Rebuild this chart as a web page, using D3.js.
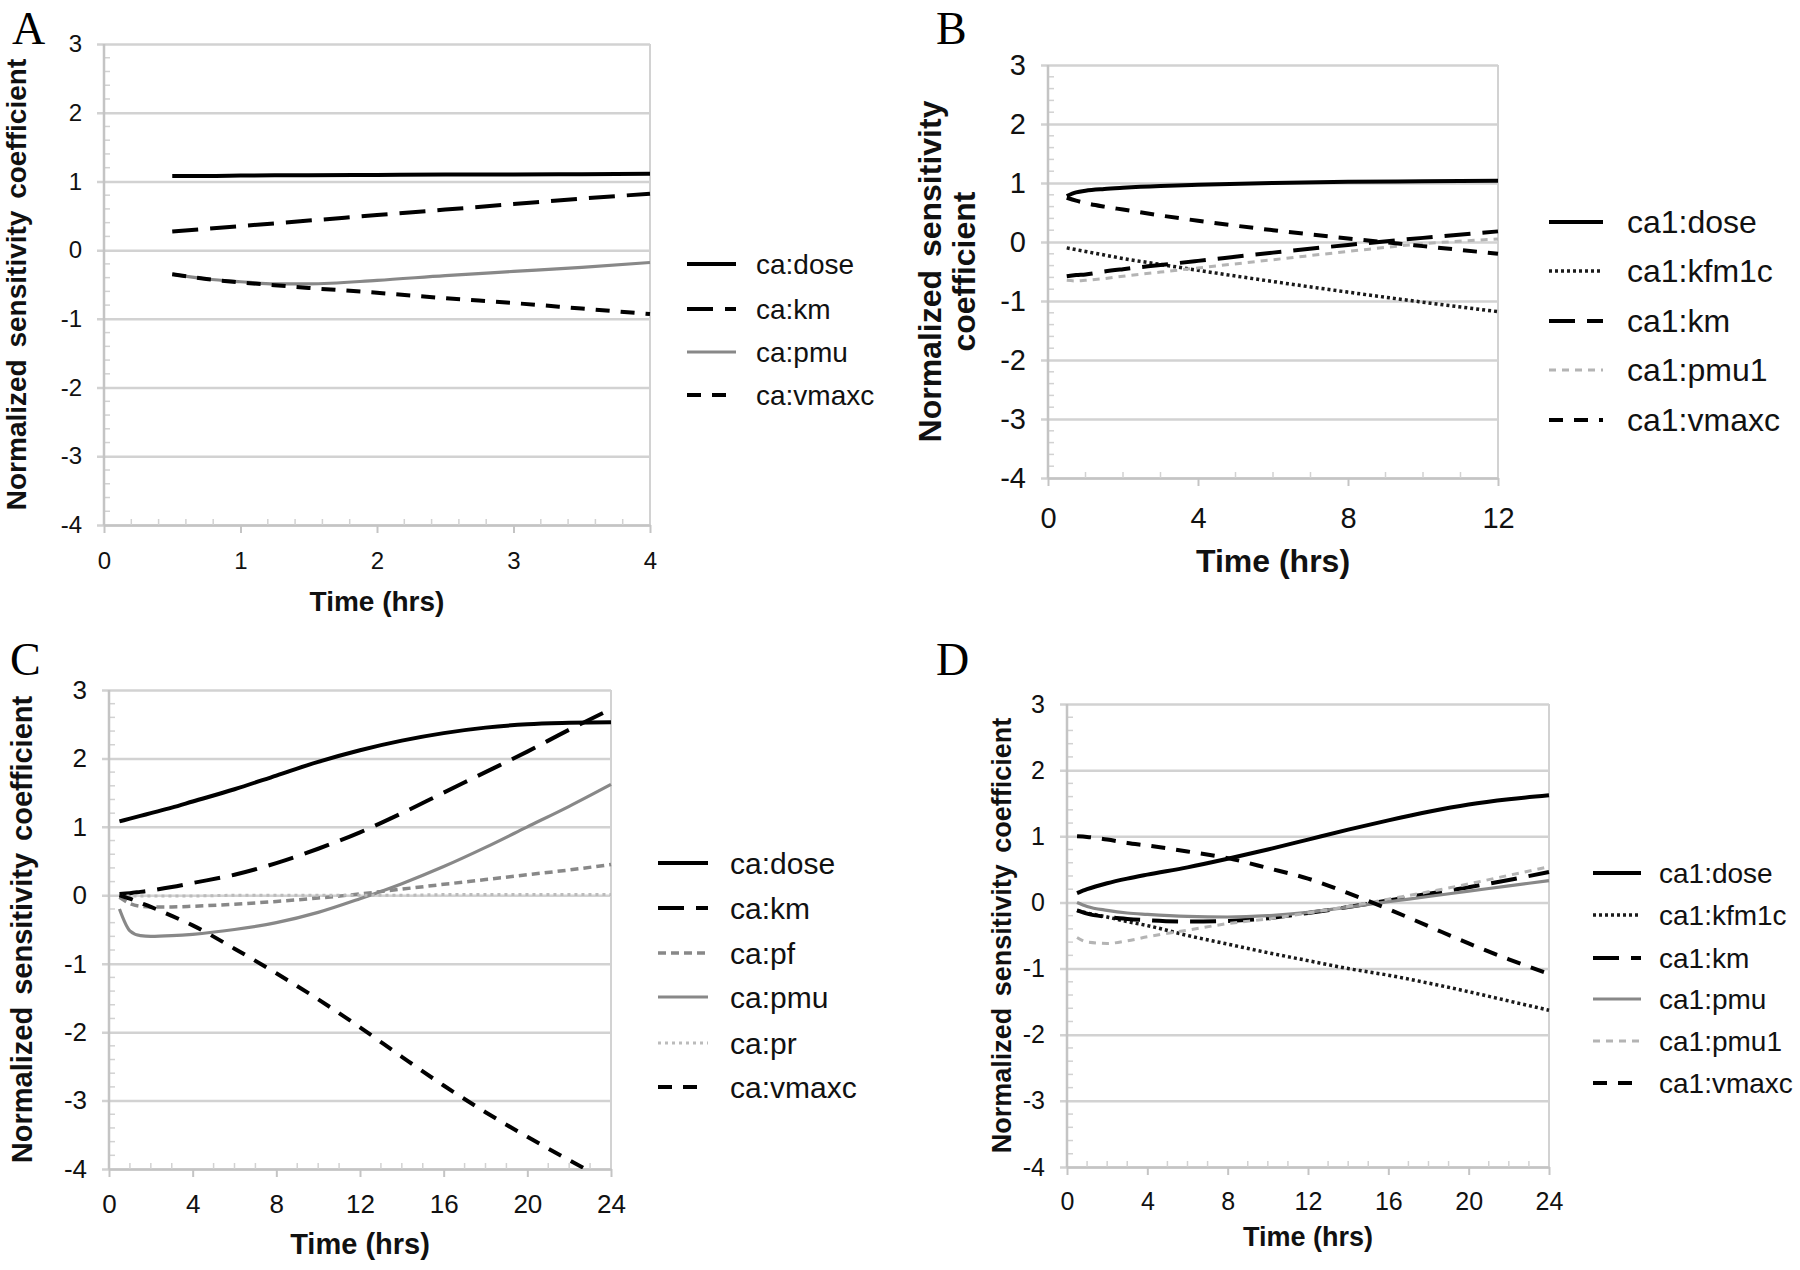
<!DOCTYPE html>
<html>
<head>
<meta charset="utf-8">
<script src="https://cdn.jsdelivr.net/npm/d3@7"></script>
<style>
  body { margin: 0; background: #fff; }
  text { font-family: "Liberation Sans", Arial, sans-serif; }
</style>
</head>
<body>
<svg id="fig" width="1800" height="1270"></svg>
<script>
//========================= DATA =========================
let yTicks = [-4, -3, -2, -1, 0, 1, 2, 3]

// panel A
let aTime  = [0.5, 0.75, 1, 1.25, 1.5, 2, 2.5, 3, 3.5, 4]
let aDose  = [1.08, 1.08, 1.085, 1.09, 1.09, 1.095, 1.1, 1.1, 1.105, 1.11]
let aKm    = [0.27, 0.31, 0.35, 0.39, 0.43, 0.51, 0.59, 0.67, 0.75, 0.82]
let aPmu   = [-0.35, -0.42, -0.46, -0.49, -0.49, -0.44, -0.37, -0.31, -0.25, -0.18]
let aVmaxc = [-0.35, -0.42, -0.47, -0.51, -0.55, -0.62, -0.70, -0.77, -0.85, -0.93]
let aTicks = [0, 1, 2, 3, 4]

// panel B
let bTime   = [0.5, 0.75, 1, 1.5, 2, 3, 4, 6, 8, 10, 12]
let bDose   = [0.78, 0.84, 0.87, 0.9, 0.92, 0.95, 0.97, 1.0, 1.02, 1.03, 1.04]
let bKfm1c  = [-0.1, -0.13, -0.16, -0.22, -0.28, -0.38, -0.48, -0.67, -0.85, -1.02, -1.18]
let bKm     = [-0.58, -0.56, -0.55, -0.5, -0.46, -0.39, -0.32, -0.18, -0.05, 0.07, 0.18]
let bPmu1   = [-0.65, -0.66, -0.65, -0.62, -0.58, -0.51, -0.44, -0.3, -0.16, -0.03, 0.05]
let bVmaxc  = [0.75, 0.7, 0.66, 0.6, 0.55, 0.45, 0.36, 0.2, 0.06, -0.07, -0.2]
let bTicks  = [0, 4, 8, 12]

// panel C
let cTime   = [0.5, 1, 1.5, 2, 3, 4, 6, 8, 10, 12, 14, 16, 18, 20, 22, 24]
let cDose   = [1.08, 1.12, 1.16, 1.2, 1.28, 1.37, 1.55, 1.75, 1.95, 2.12, 2.26, 2.37, 2.45, 2.5, 2.52, 2.53]
let cKm     = [0.02, 0.03, 0.05, 0.07, 0.12, 0.18, 0.3, 0.47, 0.68, 0.92, 1.2, 1.5, 1.8, 2.1, 2.42, 2.72]
let cPf     = [-0.03, -0.12, -0.16, -0.17, -0.17, -0.16, -0.13, -0.09, -0.04, 0.02, 0.09, 0.16, 0.23, 0.3, 0.37, 0.45]
let cPmu    = [-0.2, -0.52, -0.59, -0.6, -0.59, -0.57, -0.5, -0.4, -0.25, -0.05, 0.17, 0.42, 0.7, 1.0, 1.3, 1.62]
let cPr     = [-0.01, -0.01, -0.01, -0.01, -0.01, -0.01, 0, 0, 0, 0, 0, 0.01, 0.01, 0.01, 0.01, 0.01]
let cVmaxc  = [0.0, -0.05, -0.11, -0.17, -0.3, -0.44, -0.78, -1.14, -1.52, -1.93, -2.36, -2.78, -3.17, -3.53, -3.87, -4.2]
let cTicks  = [0, 4, 8, 12, 16, 20, 24]

// panel D
let dTime   = [0.5, 1, 2, 3, 4, 6, 8, 10, 12, 14, 16, 18, 20, 22, 24]
let dDose   = [0.14, 0.2, 0.29, 0.36, 0.42, 0.53, 0.66, 0.8, 0.95, 1.1, 1.24, 1.37, 1.48, 1.56, 1.62]
let dKfm1c  = [-0.12, -0.16, -0.22, -0.29, -0.35, -0.5, -0.63, -0.76, -0.88, -1.0, -1.1, -1.22, -1.35, -1.49, -1.63]
let dKm     = [-0.12, -0.17, -0.22, -0.25, -0.27, -0.29, -0.28, -0.24, -0.16, -0.07, 0.03, 0.13, 0.23, 0.34, 0.46]
let dPmu    = [0.0, -0.06, -0.12, -0.16, -0.18, -0.21, -0.22, -0.2, -0.15, -0.07, 0.01, 0.09, 0.17, 0.25, 0.33]
let dPmu1   = [-0.53, -0.6, -0.62, -0.58, -0.52, -0.42, -0.32, -0.25, -0.16, -0.06, 0.05, 0.16, 0.28, 0.41, 0.54]
let dVmaxc  = [1.0, 0.99, 0.95, 0.9, 0.86, 0.77, 0.67, 0.52, 0.36, 0.14, -0.1, -0.36, -0.62, -0.86, -1.08]
let dTicks  = [0, 4, 8, 12, 16, 20, 24]

//========================= LINE STYLES =========================
let styles = {
  dose:  {color: "#000", width: 4, dash: null},
  km:    {color: "#000", width: 4, dash: "26,12"},
  vmaxc: {color: "#000", width: 4, dash: "14,11"},
  pmu:   {color: "#888", width: 3.2, dash: null},
  pmu1:  {color: "#b4b4b4", width: 3, dash: "7,6"},
  kfm1c: {color: "#1a1a1a", width: 3.5, dash: "3,3"},
  pf:    {color: "#888", width: 3.5, dash: "8,5"},
  pr:    {color: "#bbb", width: 3, dash: "3,4"}
}

let svg = d3.select("#fig")
let gridColor = "#d2d2d2"

function drawPanel(p) {
  let x = d3.scaleLinear().domain([0, p.xMax]).range([p.left, p.right]),
      y = d3.scaleLinear().domain([-4, 3]).range([p.bottom, p.top]),
      g = svg.append("g")

  // panel letter
  svg.append("text")
    .attr("x", p.letterX).attr("y", p.letterY)
    .style("font-family", "'Liberation Serif', 'Times New Roman', serif")
    .style("font-size", "46px")
    .text(p.letter)

  // gridlines
  g.append("g")
    .attr("transform", "translate(" + p.left + ",0)")
    .call(d3.axisLeft(y).tickValues(yTicks).tickSize(-(p.right - p.left)).tickFormat(""))
    .call(a => a.select(".domain").remove())
    .call(a => a.selectAll("line").attr("x1", -7).attr("stroke", gridColor).attr("stroke-width", 2.5))

  // y labels
  g.append("g")
    .attr("transform", "translate(" + p.left + ",0)")
    .call(d3.axisLeft(y).tickValues(yTicks).tickSize(0).tickPadding(22).tickFormat(d => String(d)))
    .call(a => a.select(".domain").remove())
    .call(a => a.selectAll("text").attr("fill", "#111").style("font-size", p.tickFont + "px")
      .style("font-family", "'Liberation Sans', Arial, sans-serif"))

  // minor y ticks
  let yMinor = d3.range(-40, 31, 2).map(d => d / 10).filter(d => !Number.isInteger(d))
  g.selectAll(".ymin").data(yMinor).enter().append("line")
    .attr("x1", p.left).attr("x2", p.left + 6)
    .attr("y1", d => y(d)).attr("y2", d => y(d))
    .attr("stroke", gridColor).attr("stroke-width", 1.5)

  // frame: left axis & right edge
  g.append("line").attr("x1", p.left).attr("x2", p.left).attr("y1", p.top).attr("y2", p.bottom)
    .attr("stroke", "#c4c4c4").attr("stroke-width", 2.5)
  g.append("line").attr("x1", p.right).attr("x2", p.right).attr("y1", p.top).attr("y2", p.bottom)
    .attr("stroke", gridColor).attr("stroke-width", 2)

  // x axis
  g.append("g")
    .attr("transform", "translate(0," + p.bottom + ")")
    .call(d3.axisBottom(x).tickValues(p.xTicks).tickSize(8).tickSizeOuter(0).tickPadding(p.xPad).tickFormat(d => String(d)))
    .call(a => a.select(".domain").attr("stroke", "#c4c4c4").attr("stroke-width", 2.5))
    .call(a => a.selectAll("line").attr("stroke", "#c4c4c4").attr("stroke-width", 2))
    .call(a => a.selectAll("text").attr("fill", "#111").style("font-size", p.tickFont + "px")
      .style("font-family", "'Liberation Sans', Arial, sans-serif"))

  // minor x ticks
  let xMinor = d3.range(0, p.xMax + 1e-9, p.xMinorStep).filter(d => p.xTicks.indexOf(+d.toFixed(3)) < 0)
  g.selectAll(".xmin").data(xMinor).enter().append("line")
    .attr("x1", d => x(d)).attr("x2", d => x(d))
    .attr("y1", p.bottom).attr("y2", p.bottom - 6)
    .attr("stroke", gridColor).attr("stroke-width", 1.5)

  // axis titles
  svg.append("text")
    .attr("x", (p.left + p.right) / 2).attr("y", p.xTitleY)
    .attr("text-anchor", "middle")
    .style("font-weight", "bold").style("font-size", p.titleFont + "px").attr("fill", "#111")
    .text("Time (hrs)")

  p.yTitle.forEach(function(t, i) {
    svg.append("text")
      .attr("transform", "translate(" + p.yTitleX[i] + "," + (p.top + p.bottom) / 2 + ") rotate(-90)")
      .attr("text-anchor", "middle")
      .style("font-weight", "bold").style("font-size", p.titleFont + "px").attr("fill", "#111")
      .style("word-spacing", "4px")
      .text(t)
  })

  // clip
  let clipId = "clip" + p.letter
  svg.append("clipPath").attr("id", clipId).append("rect")
    .attr("x", p.left).attr("y", p.top - 10).attr("width", p.right - p.left + 10).attr("height", p.bottom - p.top + 10)

  let line = d3.line()
    .curve(d3.curveMonotoneX)
    .x(d => x(d.t))
    .y(d => y(d.v))

  let series = p.series.map(s => ({id: s.id, key: s.key,
    values: p.time.map((t, i) => ({t: t, v: s.values[i]}))}))

  g.selectAll(".series").data(series).enter().append("path")
    .attr("clip-path", "url(#" + clipId + ")")
    .attr("d", d => line(d.values))
    .attr("fill", "none")
    .attr("stroke", d => styles[d.key].color)
    .attr("stroke-width", d => styles[d.key].width)
    .attr("stroke-dasharray", d => styles[d.key].dash)

  // legend
  let leg = g.selectAll(".legend").data(series).enter().append("g")
    .attr("transform", (d, i) => "translate(" + p.legX + "," + p.legY[i] + ")")
  leg.append("line")
    .attr("x1", 0).attr("x2", p.legLen).attr("y1", 0).attr("y2", 0)
    .attr("stroke", d => styles[d.key].color)
    .attr("stroke-width", d => styles[d.key].width)
    .attr("stroke-dasharray", d => styles[d.key].dash)
  leg.append("text")
    .attr("x", p.legText).attr("y", 0).attr("dy", "0.35em")
    .style("font-size", p.legFont + "px").attr("fill", "#111")
    .text(d => d.id)
}

//========================= PANELS =========================
drawPanel({letter: "A", letterX: 12, letterY: 44,
  left: 104, right: 650, top: 44, bottom: 525, xMax: 4, xTicks: aTicks, xMinorStep: 0.2, xPad: 19,
  tickFont: 24, titleFont: 28, legFont: 28,
  xTitleY: 611, yTitle: ["Normalized sensitivity coefficient"], yTitleX: [26],
  legX: 687, legLen: 49, legText: 69, legY: [264, 309, 352, 395],
  time: aTime,
  series: [{id: "ca:dose", key: "dose", values: aDose},
           {id: "ca:km", key: "km", values: aKm},
           {id: "ca:pmu", key: "pmu", values: aPmu},
           {id: "ca:vmaxc", key: "vmaxc", values: aVmaxc}]})

drawPanel({letter: "B", letterX: 936, letterY: 44,
  left: 1048, right: 1498, top: 65, bottom: 478, xMax: 12, xTicks: bTicks, xMinorStep: 1, xPad: 21,
  tickFont: 29, titleFont: 32, legFont: 32,
  xTitleY: 572, yTitle: ["Normalized sensitivity", "coefficient"], yTitleX: [941, 975],
  legX: 1549, legLen: 54, legText: 78, legY: [222, 271, 321, 370, 420],
  time: bTime,
  series: [{id: "ca1:dose", key: "dose", values: bDose},
           {id: "ca1:kfm1c", key: "kfm1c", values: bKfm1c},
           {id: "ca1:km", key: "km", values: bKm},
           {id: "ca1:pmu1", key: "pmu1", values: bPmu1},
           {id: "ca1:vmaxc", key: "vmaxc", values: bVmaxc}]})

drawPanel({letter: "C", letterX: 10, letterY: 675,
  left: 109, right: 611, top: 690, bottom: 1169, xMax: 24, xTicks: cTicks, xMinorStep: 1, xPad: 18,
  tickFont: 26, titleFont: 29, legFont: 30,
  xTitleY: 1254, yTitle: ["Normalized sensitivity coefficient"], yTitleX: [32],
  legX: 658, legLen: 50, legText: 72, legY: [863, 908, 953, 997, 1043, 1087],
  time: cTime,
  series: [{id: "ca:dose", key: "dose", values: cDose},
           {id: "ca:km", key: "km", values: cKm},
           {id: "ca:pf", key: "pf", values: cPf},
           {id: "ca:pmu", key: "pmu", values: cPmu},
           {id: "ca:pr", key: "pr", values: cPr},
           {id: "ca:vmaxc", key: "vmaxc", values: cVmaxc}]})

drawPanel({letter: "D", letterX: 936, letterY: 675,
  left: 1067, right: 1549, top: 704, bottom: 1167, xMax: 24, xTicks: dTicks, xMinorStep: 1, xPad: 17,
  tickFont: 25, titleFont: 27, legFont: 28,
  xTitleY: 1246, yTitle: ["Normalized sensitivity coefficient"], yTitleX: [1011],
  legX: 1593, legLen: 48, legText: 66, legY: [873, 915, 958, 999, 1041, 1083],
  time: dTime,
  series: [{id: "ca1:dose", key: "dose", values: dDose},
           {id: "ca1:kfm1c", key: "kfm1c", values: dKfm1c},
           {id: "ca1:km", key: "km", values: dKm},
           {id: "ca1:pmu", key: "pmu", values: dPmu},
           {id: "ca1:pmu1", key: "pmu1", values: dPmu1},
           {id: "ca1:vmaxc", key: "vmaxc", values: dVmaxc}]})
</script>
</body>
</html>
